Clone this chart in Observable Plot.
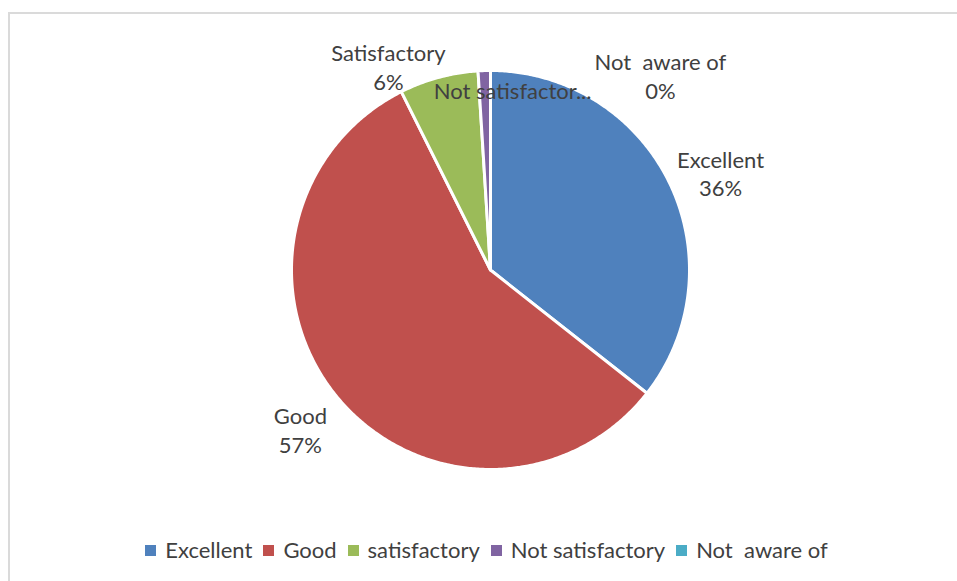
<!DOCTYPE html>
<html><head><meta charset="utf-8">
<script src="https://cdn.jsdelivr.net/npm/d3@7"></script>
<script src="https://cdn.jsdelivr.net/npm/@observablehq/plot@0.6"></script>
<style>
html,body{margin:0;padding:0;background:#fff;width:957px;height:581px;overflow:hidden;font-family:Lato,"Open Sans",sans-serif;}
#frame{position:absolute;left:8px;top:12px;width:960px;height:580px;border-left:2px solid #dadada;border-top:2px solid #dadada;box-sizing:border-box;}
#chart{position:absolute;left:0;top:0;}
#legend{position:absolute;left:0;top:536px;width:984px;display:flex;justify-content:center;align-items:center;font-size:22px;line-height:28px;color:#404040;white-space:pre;}
#legend .item{display:flex;align-items:center;margin-right:11px;}
#legend .sw{width:11px;height:11px;margin-right:9px;}
</style></head>
<body>
<div id="frame"></div>
<div id="chart"></div>
<div id="legend"></div>
<script>
// Data
const categories = ["Excellent", "Good", "satisfactory", "Not satisfactory", "Not  aware of"];
const values = [35.6, 57.0, 6.4, 1.0, 0];
const colors = ["#4F81BD", "#C0504D", "#9BBB59", "#8064A2", "#4BACC6"];
const sliceLabels = ["Excellent", "Good", "Satisfactory", "Not satisfactor...", "Not  aware of"];
const showPercent = [true, true, true, false, true];
// label placement (polar: degrees clockwise from top, radius relative to pie radius)
const labelAngle = [67.2, 230.1, 333.3, 7.0, 41.2];
const labelRadius = [1.254, 1.245, 1.142, 0.912, 1.296];

const total = d3.sum(values);
const pie = d3.pie().sort(null).value(d => d)(values);
const pts = [];
pie.forEach((p, i) => {
  if (p.endAngle - p.startAngle <= 0) return;
  const cat = categories[i];
  pts.push({cat, x: 0, y: 0});
  const n = Math.max(2, Math.ceil((p.endAngle - p.startAngle) / (Math.PI / 360)));
  for (let k = 0; k <= n; k++) {
    const a = p.startAngle + (p.endAngle - p.startAngle) * k / n;
    pts.push({cat, x: Math.sin(a), y: Math.cos(a)});
  }
});

const labels = categories.map((c, i) => {
  const a = labelAngle[i] * Math.PI / 180;
  const pct = Math.round(values[i] / total * 100) + "%";
  return {
    x: labelRadius[i] * Math.sin(a),
    y: labelRadius[i] * Math.cos(a),
    text: showPercent[i] ? sliceLabels[i] + "\n" + pct : sliceLabels[i]
  };
});

const plot = Plot.plot({
  width: 957,
  height: 520,
  marginLeft: 291,
  marginRight: 268,
  marginTop: 70,
  marginBottom: 51,
  x: {axis: null, domain: [-1, 1]},
  y: {axis: null, domain: [-1, 1]},
  color: {domain: categories, range: colors},
  style: {background: "transparent", overflow: "visible"},
  marks: [
    Plot.line(pts, {x: "x", y: "y", z: "cat", fill: "cat", stroke: "white", strokeWidth: 3, strokeLinejoin: "round", curve: "linear-closed"}),
    Plot.text(labels, {x: "x", y: "y", text: "text", fill: "#404040", fontSize: 22, lineHeight: 1.3, fontFamily: "Lato, 'Open Sans', sans-serif"})
  ]
});
document.getElementById("chart").appendChild(plot);

const legend = document.getElementById("legend");
categories.forEach((c, i) => {
  const item = document.createElement("div");
  item.className = "item";
  const sw = document.createElement("div");
  sw.className = "sw";
  sw.style.background = colors[i];
  const t = document.createElement("span");
  t.textContent = c;
  item.appendChild(sw);
  item.appendChild(t);
  legend.appendChild(item);
});
</script>
</body></html>
